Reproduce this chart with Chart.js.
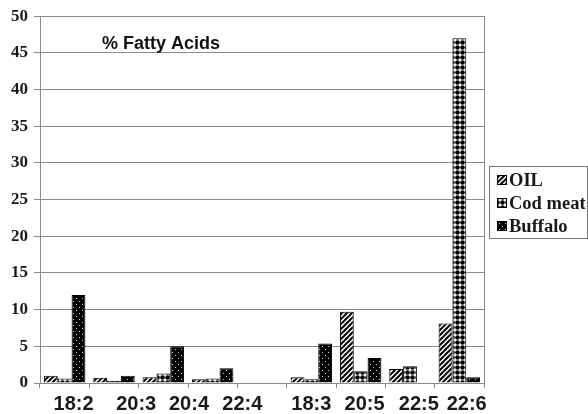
<!DOCTYPE html>
<html>
<head>
<meta charset="utf-8">
<script src="https://cdn.jsdelivr.net/npm/chart.js@4/dist/chart.umd.min.js"></script>
<style>
  html, body { margin: 0; padding: 0; background: #ffffff; }
  #wrap { width: 588px; height: 414px; }
</style>
</head>
<body>
<div id="wrap"><canvas id="c" width="588" height="414"></canvas></div>
<script>
// Fatty acid composition (%) by chain, for three sources
const categories = ['18:2', '20:3', '20:4', '22:4', '', '18:3', '20:5', '22:5', '22:6'];
const oilValues     = [1.0, 0.7, 0.8, 0.5, null, 0.8, 9.7, 1.9, 8.1];
const codMeatValues = [0.6, 0.3, 1.3, 0.6, null, 0.5, 1.6, 2.3, 47.0];
const buffaloValues = [12.0, 1.0, 5.0, 2.0, null, 5.4, 3.4, null, 0.8];
const yTicks = [0, 5, 10, 15, 20, 25, 30, 35, 40, 45, 50];
const chartTitle = '% Fatty Acids';

// Category labels sit slightly right of each slot (in slot units)
const labelShift = [0.18, 0.45, 0.52, 0.60, 0, 0, 0.08, 0.18, 0.15];

// Fill patterns
function makePattern(size, draw) {
  const c = document.createElement('canvas');
  c.width = size; c.height = size;
  const g = c.getContext('2d');
  draw(g, size);
  return g.createPattern(c, 'repeat');
}
const stripePattern = makePattern(5, (g, s) => {
  g.fillStyle = '#ffffff'; g.fillRect(0, 0, s, s);
  g.strokeStyle = '#000000'; g.lineWidth = 2;
  g.beginPath();
  g.moveTo(-1, s + 1); g.lineTo(s + 1, -1);
  g.moveTo(-1, 1); g.lineTo(1, -1);
  g.moveTo(s - 1, s + 1); g.lineTo(s + 1, s - 1);
  g.stroke();
});
const dotGridPattern = makePattern(5, (g, s) => {
  g.fillStyle = '#ffffff'; g.fillRect(0, 0, s, s);
  g.fillStyle = '#000000';
  g.beginPath(); g.arc(2.5, 2.5, 2.3, 0, Math.PI * 2); g.fill();
});
const speckPattern = makePattern(6, (g, s) => {
  g.fillStyle = '#000000'; g.fillRect(0, 0, s, s);
  g.fillStyle = '#d8d8d8';
  g.fillRect(1, 1, 1, 1);
  g.fillRect(4, 4, 1, 1);
});

const fills = [stripePattern, dotGridPattern, speckPattern];
const seriesNames = ['OIL', 'Cod meat', 'Buffalo'];
const seriesValues = [oilValues, codMeatValues, buffaloValues];

const datasets = seriesNames.map((name, i) => ({
  label: name,
  data: seriesValues[i],
  backgroundColor: fills[i],
  borderColor: '#000000',
  borderWidth: 1,
  categoryPercentage: 0.84,
  barPercentage: 1.0
}));

const gridGray = '#8a8a8a';

const decorations = {
  id: 'decorations',
  afterDraw(chart) {
    const { ctx, chartArea, scales } = chart;
    const x = scales.x;
    ctx.save();
    // right frame of plot area
    ctx.strokeStyle = gridGray; ctx.lineWidth = 1;
    ctx.beginPath();
    ctx.moveTo(Math.round(chartArea.right) + 0.5, chartArea.top);
    ctx.lineTo(Math.round(chartArea.right) + 0.5, chartArea.bottom);
    ctx.stroke();

    // title inside plot
    ctx.fillStyle = '#111111';
    ctx.font = 'bold 18px "Liberation Sans", Arial, sans-serif';
    ctx.textAlign = 'left'; ctx.textBaseline = 'middle';
    ctx.fillText(chartTitle, 102, 44);

    // category labels
    ctx.font = 'bold 20px "Liberation Sans", Arial, sans-serif';
    ctx.textAlign = 'center'; ctx.textBaseline = 'middle';
    ctx.fillStyle = '#1a1a1a';
    categories.forEach((lab, i) => {
      if (!lab) return;
      const px = x.getPixelForValue(i + labelShift[i]);
      ctx.fillText(lab, px, 404);
    });

    // legend box
    const lx = 489.5, ly = 166.5, lw = 98, lh = 72;
    ctx.fillStyle = '#ffffff';
    ctx.fillRect(lx, ly, lw, lh);
    ctx.strokeStyle = '#777777'; ctx.lineWidth = 1;
    ctx.strokeRect(lx, ly, lw, lh);
    ctx.font = 'bold 18.5px "Liberation Serif", "Times New Roman", serif';
    ctx.textAlign = 'left'; ctx.textBaseline = 'middle';
    seriesNames.forEach((name, i) => {
      const cy = 180 + i * 23;
      ctx.fillStyle = fills[i];
      ctx.fillRect(497, cy - 5, 9, 9);
      ctx.strokeStyle = '#000000';
      ctx.strokeRect(497.5, cy - 4.5, 9, 9);
      ctx.fillStyle = '#1a1a1a';
      ctx.fillText(name, 509, cy + 1);
    });
    ctx.restore();
  }
};

new Chart(document.getElementById('c'), {
  type: 'bar',
  data: { labels: categories, datasets },
  options: {
    responsive: false,
    animation: false,
    devicePixelRatio: 1,
    layout: { padding: { top: 15, right: 104, left: 0, bottom: 0 } },
    plugins: { legend: { display: false }, tooltip: { enabled: false }, title: { display: false } },
    scales: {
      x: {
        type: 'category',
        offset: true,
        grid: { offset: true, drawOnChartArea: false, drawTicks: true, tickLength: 5, color: gridGray },
        border: { color: gridGray },
        ticks: { display: false },
        afterFit(scale) { scale.height = 31; }
      },
      y: {
        min: 0, max: 50,
        afterBuildTicks(scale) { scale.ticks = yTicks.map(v => ({ value: v })); },
        grid: { color: gridGray, tickLength: 6, lineWidth: 1 },
        border: { color: gridGray },
        ticks: {
          color: '#1a1a1a',
          padding: 6,
          font: { family: '"Liberation Serif", "Times New Roman", serif', weight: 'bold', size: 17 }
        },
        afterFit(scale) { scale.width = 40; }
      }
    }
  },
  plugins: [decorations]
});
</script>
</body>
</html>
